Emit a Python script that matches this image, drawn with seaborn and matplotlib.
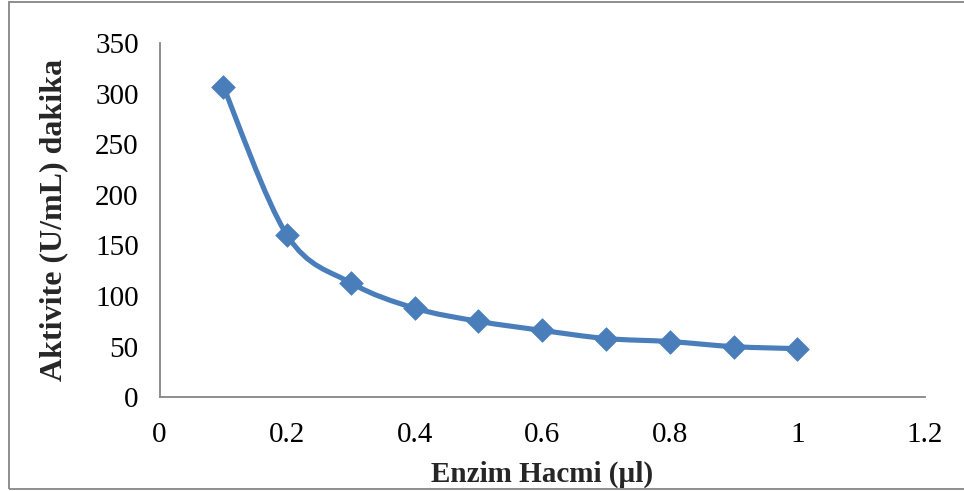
import numpy as np
import pandas as pd
import matplotlib
matplotlib.use("Agg")
import matplotlib.pyplot as plt
from matplotlib.path import Path
from matplotlib.patches import PathPatch, Rectangle
import seaborn as sns

volume = [0.1, 0.2, 0.3, 0.4, 0.5, 0.6, 0.7, 0.8, 0.9, 1.0]
activity = [307, 160, 113, 88, 75, 66, 58, 55, 50, 48]
x_ticks = [0, 0.2, 0.4, 0.6, 0.8, 1, 1.2]
x_tick_labels = ["0", "0.2", "0.4", "0.6", "0.8", "1", "1.2"]
y_ticks = [0, 50, 100, 150, 200, 250, 300, 350]
x_label = "Enzim Hacmi (µl)"
y_label = "Aktivite (U/mL) dakika"

sns.set_style("white")
plt.rcParams['font.family'] = ['Liberation Serif', 'DejaVu Serif']

df = pd.DataFrame({"x": volume, "y": activity})
color = "#4A7EBB"
gray = "#868686"

fig = plt.figure(figsize=(9.64, 4.91), dpi=100)
ax = fig.add_axes([0.1655, 0.191, 0.7940, 0.7214])

# smoothed line (Catmull-Rom as cubic Bezier, like Excel's smoothed line)
pts = np.column_stack([df["x"].to_numpy(float), df["y"].to_numpy(float)])
n = len(pts)
verts = [tuple(pts[0])]
codes = [Path.MOVETO]
for i in range(n - 1):
    p0 = pts[i - 1] if i > 0 else pts[i]
    p1 = pts[i]
    p2 = pts[i + 1]
    p3 = pts[i + 2] if i + 2 < n else pts[i + 1]
    c1 = p1 + (p2 - p0) / 6.0
    c2 = p2 - (p3 - p1) / 6.0
    verts += [tuple(c1), tuple(c2), tuple(p2)]
    codes += [Path.CURVE4] * 3
ax.add_patch(PathPatch(Path(verts, codes), facecolor="none", edgecolor=color,
                       lw=3.7, capstyle="round", joinstyle="round", zorder=2))

sns.scatterplot(data=df, x="x", y="y", ax=ax, marker="D", s=145, color=color,
                edgecolor=color, linewidth=0.5, zorder=3, legend=False)

ax.set_xlim(0, 1.2)
ax.set_ylim(0, 350)
ax.set_xticks(x_ticks)
ax.set_xticklabels(x_tick_labels)
ax.set_yticks(y_ticks)
ax.tick_params(axis="both", direction="out", length=5, width=1.3, color=gray,
               labelsize=21, labelcolor="black")
ax.tick_params(axis="y", pad=10)
ax.tick_params(axis="x", pad=13)
for s in ["top", "right"]:
    ax.spines[s].set_visible(False)
for s in ["left", "bottom"]:
    ax.spines[s].set_color(gray)
    ax.spines[s].set_linewidth(1.3)

ax.set_xlabel(x_label, fontsize=21, fontweight="bold", labelpad=9)
ax.set_ylabel(y_label, fontsize=23, fontweight="bold", labelpad=19)

fig.patches.append(Rectangle((9 / 964, 2 / 491), 1.0, (489 - 2) / 491,
                             transform=fig.transFigure, fill=False,
                             edgecolor=gray, lw=1.3))

fig.savefig("out.png", dpi=100)
